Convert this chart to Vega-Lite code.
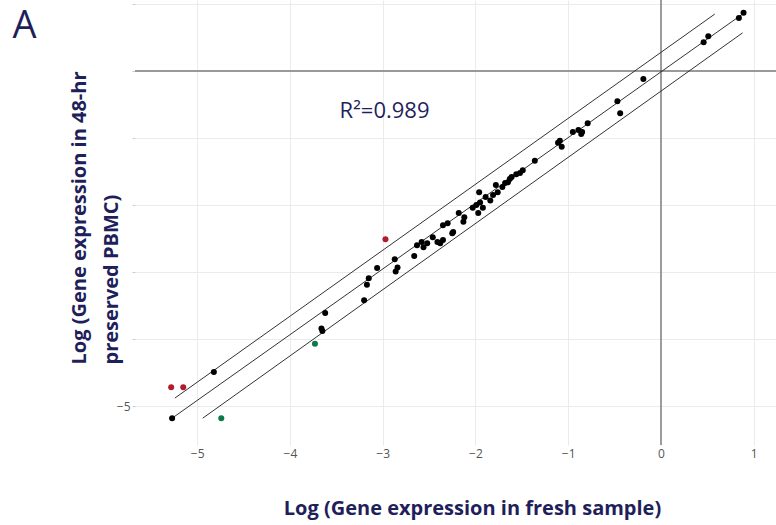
{
  "$schema": "https://vega.github.io/schema/vega-lite/v6.json",
  "autosize": "none",
  "width": 641,
  "height": 445,
  "padding": {"left": 135, "top": 0, "right": 0, "bottom": 80},
  "background": "white",
  "config": {"view": {"stroke": null}},
  "datasets": {
    "pts": [
      {"x": -5.27, "y": -5.18, "g": "black"},
      {"x": -4.82, "y": -4.49, "g": "black"},
      {"x": -3.66, "y": -3.84, "g": "black"},
      {"x": -3.65, "y": -3.88, "g": "black"},
      {"x": -3.62, "y": -3.61, "g": "black"},
      {"x": -3.20, "y": -3.42, "g": "black"},
      {"x": -3.17, "y": -3.19, "g": "black"},
      {"x": -3.15, "y": -3.09, "g": "black"},
      {"x": -3.06, "y": -2.94, "g": "black"},
      {"x": -2.87, "y": -2.81, "g": "black"},
      {"x": -2.84, "y": -2.93, "g": "black"},
      {"x": -2.86, "y": -2.99, "g": "black"},
      {"x": -2.66, "y": -2.76, "g": "black"},
      {"x": -2.63, "y": -2.60, "g": "black"},
      {"x": -2.58, "y": -2.55, "g": "black"},
      {"x": -2.56, "y": -2.63, "g": "black"},
      {"x": -2.52, "y": -2.57, "g": "black"},
      {"x": -2.46, "y": -2.48, "g": "black"},
      {"x": -2.41, "y": -2.55, "g": "black"},
      {"x": -2.38, "y": -2.57, "g": "black"},
      {"x": -2.35, "y": -2.52, "g": "black"},
      {"x": -2.35, "y": -2.30, "g": "black"},
      {"x": -2.30, "y": -2.27, "g": "black"},
      {"x": -2.25, "y": -2.42, "g": "black"},
      {"x": -2.24, "y": -2.40, "g": "black"},
      {"x": -2.18, "y": -2.12, "g": "black"},
      {"x": -2.13, "y": -2.25, "g": "black"},
      {"x": -2.12, "y": -2.18, "g": "black"},
      {"x": -2.03, "y": -2.04, "g": "black"},
      {"x": -1.99, "y": -2.00, "g": "black"},
      {"x": -1.97, "y": -2.12, "g": "black"},
      {"x": -1.95, "y": -1.96, "g": "black"},
      {"x": -1.96, "y": -1.81, "g": "black"},
      {"x": -1.92, "y": -2.04, "g": "black"},
      {"x": -1.89, "y": -1.88, "g": "black"},
      {"x": -1.84, "y": -1.93, "g": "black"},
      {"x": -1.81, "y": -1.85, "g": "black"},
      {"x": -1.76, "y": -1.81, "g": "black"},
      {"x": -1.78, "y": -1.70, "g": "black"},
      {"x": -1.71, "y": -1.73, "g": "black"},
      {"x": -1.68, "y": -1.67, "g": "black"},
      {"x": -1.65, "y": -1.66, "g": "black"},
      {"x": -1.63, "y": -1.61, "g": "black"},
      {"x": -1.61, "y": -1.58, "g": "black"},
      {"x": -1.56, "y": -1.54, "g": "black"},
      {"x": -1.52, "y": -1.52, "g": "black"},
      {"x": -1.49, "y": -1.48, "g": "black"},
      {"x": -1.36, "y": -1.34, "g": "black"},
      {"x": -1.11, "y": -1.07, "g": "black"},
      {"x": -1.09, "y": -1.04, "g": "black"},
      {"x": -1.07, "y": -1.13, "g": "black"},
      {"x": -0.95, "y": -0.91, "g": "black"},
      {"x": -0.89, "y": -0.88, "g": "black"},
      {"x": -0.85, "y": -0.91, "g": "black"},
      {"x": -0.86, "y": -0.94, "g": "black"},
      {"x": -0.79, "y": -0.78, "g": "black"},
      {"x": -0.47, "y": -0.45, "g": "black"},
      {"x": -0.44, "y": -0.63, "g": "black"},
      {"x": -0.19, "y": -0.12, "g": "black"},
      {"x": 0.46, "y": 0.43, "g": "black"},
      {"x": 0.51, "y": 0.52, "g": "black"},
      {"x": 0.84, "y": 0.79, "g": "black"},
      {"x": 0.89, "y": 0.87, "g": "black"},
      {"x": -5.28, "y": -4.72, "g": "red"},
      {"x": -5.15, "y": -4.72, "g": "red"},
      {"x": -2.97, "y": -2.51, "g": "red"},
      {"x": -4.74, "y": -5.18, "g": "green"},
      {"x": -3.73, "y": -4.07, "g": "green"}
    ],
    "lines": [
      {"line": "upper", "x": -5.24, "y": -4.88},
      {"line": "upper", "x": 0.58, "y": 0.85},
      {"line": "middle", "x": -5.27, "y": -5.18},
      {"line": "middle", "x": 0.90, "y": 0.87},
      {"line": "lower", "x": -4.94, "y": -5.18},
      {"line": "lower", "x": 0.88, "y": 0.57}
    ],
    "zero": [{"v": 0}],
    "note": [{"label": "R²=0.989", "x": -2.98, "y": -0.6}],
    "panel": [{"label": "A", "x": -6.86, "y": 0.49}]
  },
  "layer": [
    {
      "data": {"name": "pts"},
      "mark": {"type": "point", "opacity": 0},
      "encoding": {
        "x": {"field": "x", "type": "quantitative",
          "scale": {"domain": [-5.67, 1.24], "nice": false, "zero": false},
          "axis": {"values": [-5, -4, -3, -2, -1, 0, 1], "format": "d", "grid": true, "gridColor": "#ebebeb", "domain": false, "ticks": false,
            "labelColor": "#555555", "labelFontSize": 12, "labelFont": "Open Sans", "labelPadding": 3,
            "title": "Log (Gene expression in fresh sample)", "titleFont": "Open Sans", "titleFontSize": 20, "titleFontWeight": "bold", "titleColor": "#1f1f5b",
            "titleX": 337, "titleY": 63, "titleBaseline": "middle", "titleAnchor": "middle"}},
        "y": {"field": "y", "type": "quantitative",
          "scale": {"domain": [-5.58, 1.06], "nice": false, "zero": false},
          "axis": {"values": [-5, -4, -3, -2, -1, 0, 1], "format": "d", "grid": true, "gridColor": "#ebebeb", "domain": false, "ticks": true, "tickSize": 3, "tickColor": "#cccccc",
            "labelExpr": "datum.value == -5 ? datum.label : ''",
            "labelColor": "#555555", "labelFontSize": 12, "labelFont": "Open Sans", "labelPadding": 2,
            "title": ["Log (Gene expression in 48-hr", "preserved PBMC)"], "titleFont": "Open Sans", "titleFontSize": 20, "titleFontWeight": "bold", "titleColor": "#1f1f5b",
            "titleX": -66, "titleY": 364, "titleBaseline": "top", "titleAlign": "left", "titleAngle": -90, "titleLineHeight": 32}}
      }
    },
    {
      "data": {"name": "zero"},
      "mark": {"type": "rule", "color": "#999999", "strokeWidth": 2},
      "encoding": {"y": {"field": "v", "type": "quantitative"}}
    },
    {
      "data": {"name": "zero"},
      "mark": {"type": "rule", "color": "#444444", "strokeWidth": 1},
      "encoding": {"x": {"field": "v", "type": "quantitative"}}
    },
    {
      "data": {"name": "lines"},
      "mark": {"type": "line", "color": "#333333", "strokeWidth": 1},
      "encoding": {
        "x": {"field": "x", "type": "quantitative"},
        "y": {"field": "y", "type": "quantitative"},
        "detail": {"field": "line"}
      }
    },
    {
      "data": {"name": "pts"},
      "mark": {"type": "circle", "size": 36, "opacity": 1},
      "encoding": {
        "x": {"field": "x", "type": "quantitative"},
        "y": {"field": "y", "type": "quantitative"},
        "color": {"field": "g", "type": "nominal", "legend": null,
          "scale": {"domain": ["black", "red", "green"], "range": ["#000000", "#b31b2e", "#0a7a4a"]}}
      }
    },
    {
      "data": {"name": "note"},
      "mark": {"type": "text", "font": "Open Sans", "fontSize": 22, "color": "#1f1f5b", "align": "center", "baseline": "middle"},
      "encoding": {
        "x": {"field": "x", "type": "quantitative"},
        "y": {"field": "y", "type": "quantitative"},
        "text": {"field": "label"}
      }
    },
    {
      "data": {"name": "panel"},
      "mark": {"type": "text", "font": "Open Sans", "fontSize": 38, "color": "#1f1f5b", "align": "center", "baseline": "alphabetic", "clip": false},
      "encoding": {
        "x": {"field": "x", "type": "quantitative"},
        "y": {"field": "y", "type": "quantitative"},
        "text": {"field": "label"}
      }
    }
  ]
}
